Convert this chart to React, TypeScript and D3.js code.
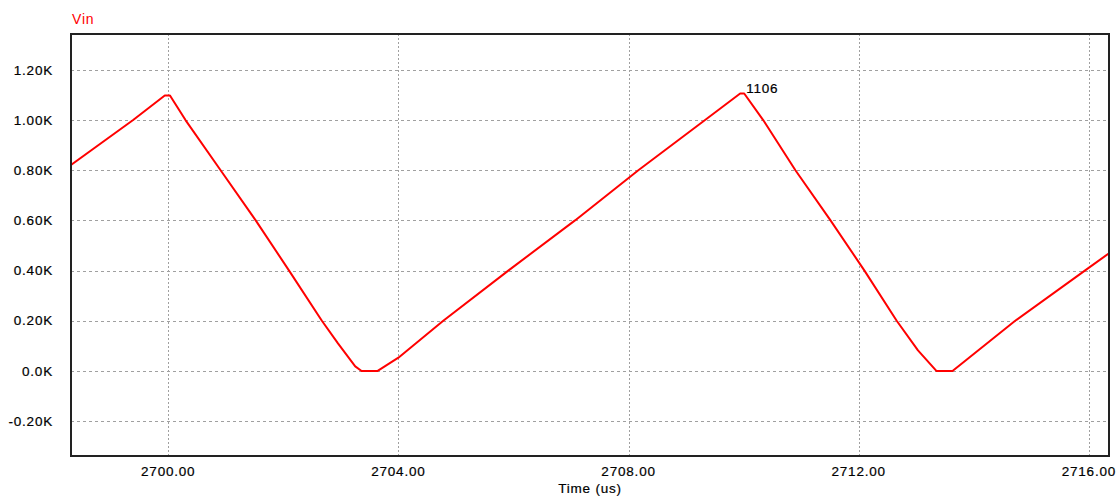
import React from "react";
import * as d3 from "d3";

// Simulated input voltage Vin (volts) over time (microseconds)
const timeUs = [
  2698.31, 2699.39, 2699.94, 2700.03, 2700.3, 2700.91, 2701.52, 2702.1,
  2702.67, 2702.95, 2703.25, 2703.36, 2703.64, 2704.0, 2704.78, 2705.91,
  2707.07, 2708.17, 2709.33, 2709.94, 2710.01, 2710.34, 2710.9, 2711.51,
  2712.1, 2712.66, 2713.03, 2713.35, 2713.63, 2714.72, 2715.93, 2716.35,
];
const vinVolts = [
  821, 1000, 1098, 1098, 1000, 800, 600, 400,
  200, 110, 18, 0, 0, 53, 200, 400,
  600, 800, 1000, 1106, 1106, 1000, 800, 600,
  400, 200, 82, 0, 0, 200, 400, 469,
];

const xTicks = [2700, 2704, 2708, 2712, 2716];
const xTickLabels = ["2700.00", "2704.00", "2708.00", "2712.00", "2716.00"];
const yTicks = [-200, 0, 200, 400, 600, 800, 1000, 1200];
const yTickLabels = ["-0.20K", "0.0K", "0.20K", "0.40K", "0.60K", "0.80K", "1.00K", "1.20K"];

const seriesName = "Vin";
const xAxisTitle = "Time (us)";
const peakIndex = 19;

const W = 1118;
const H = 498;
const plot = { left: 71, right: 1109, top: 34, bottom: 456 };

const FONT = "Arial, 'Liberation Sans', Helvetica, sans-serif";

export default function App() {
  const x = d3.scaleLinear().domain([2698.31, 2716.35]).range([plot.left, plot.right]);
  const y = d3.scaleLinear().domain([-339, 1343]).range([plot.bottom, plot.top]);

  const points = timeUs.map((t, i) => [t, vinVolts[i]] as [number, number]);
  const line = d3
    .line<[number, number]>()
    .x((d) => x(d[0]))
    .y((d) => y(d[1]));

  const px = x(timeUs[peakIndex]);
  const py = y(vinVolts[peakIndex]);

  return (
    <svg
      width={W}
      height={H}
      style={{ position: "absolute", left: 0, top: 0, background: "#fff" }}
      fontFamily={FONT}
    >
      <defs>
        <clipPath id="plot-clip">
          <rect x={plot.left} y={plot.top} width={plot.right - plot.left} height={plot.bottom - plot.top} />
        </clipPath>
      </defs>
      <rect x={0} y={0} width={W} height={H} fill="#fff" />

      {/* grid */}
      {yTicks.map((v) => (
        <line
          key={"gy" + v}
          x1={plot.left}
          x2={plot.right}
          y1={Math.round(y(v)) + 0.5}
          y2={Math.round(y(v)) + 0.5}
          stroke="#a0a0a0"
          strokeWidth={1}
          strokeDasharray="3,3"
        />
      ))}
      {xTicks.map((v) => (
        <line
          key={"gx" + v}
          x1={Math.round(x(v)) + 0.5}
          x2={Math.round(x(v)) + 0.5}
          y1={plot.top}
          y2={plot.bottom}
          stroke="#a0a0a0"
          strokeWidth={1}
          strokeDasharray="2,2"
        />
      ))}

      {/* series */}
      <path
        d={line(points) || ""}
        fill="none"
        stroke="#ff0000"
        strokeWidth={2}
        strokeLinejoin="round"
        clipPath="url(#plot-clip)"
      />

      {/* frame */}
      <rect
        x={plot.left}
        y={plot.top}
        width={plot.right - plot.left}
        height={plot.bottom - plot.top}
        fill="none"
        stroke="#222"
        strokeWidth={2}
      />

      {/* y tick labels */}
      {yTicks.map((v, i) => (
        <text
          key={"ly" + v}
          x={53}
          y={y(v)}
          dy="0.35em"
          textAnchor="end"
          fontSize={13.5}
          letterSpacing={0.8}
          fill="#000"
          stroke="#000"
          strokeWidth={0.2}
        >
          {yTickLabels[i]}
        </text>
      ))}

      {/* x tick labels */}
      {xTicks.map((v, i) => (
        <text
          key={"lx" + v}
          x={x(v)}
          y={476}
          textAnchor="middle"
          fontSize={13.5}
          letterSpacing={0.8}
          fill="#000"
          stroke="#000"
          strokeWidth={0.2}
        >
          {xTickLabels[i]}
        </text>
      ))}

      {/* axis title */}
      <text
        x={(plot.left + plot.right) / 2}
        y={492.5}
        textAnchor="middle"
        fontSize={13.5}
        letterSpacing={0.8}
        fill="#000"
        stroke="#000"
        strokeWidth={0.2}
      >
        {xAxisTitle}
      </text>

      {/* series name */}
      <text x={72} y={24} fontSize={14} letterSpacing={0.8} fill="#ff0000">
        {seriesName}
      </text>

      {/* peak value label */}
      <text
        x={px + 6}
        y={py}
        fontSize={13.5}
        letterSpacing={0.8}
        fill="#000"
        stroke="#000"
        strokeWidth={0.2}
      >
        {String(vinVolts[peakIndex])}
      </text>
    </svg>
  );
}
